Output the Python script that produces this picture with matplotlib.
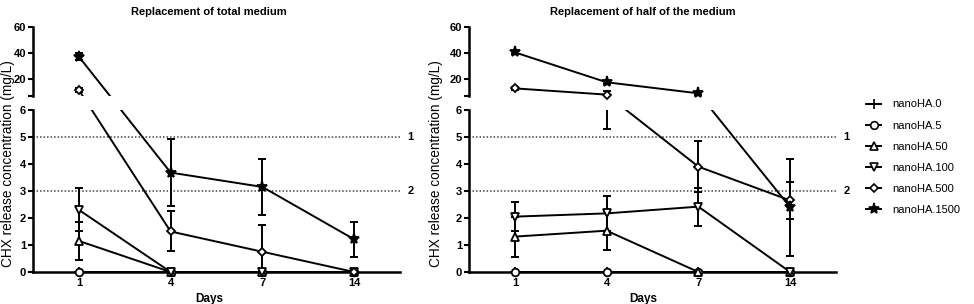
import matplotlib
matplotlib.use('Agg')
import matplotlib.pyplot as plt
import numpy as np
from matplotlib.spines import Spine
from matplotlib.lines import Line2D

plt.rcParams['font.family'] = ['Liberation Sans', 'DejaVu Sans']

# ---------------- data ----------------
days = ['1', '4', '7', '14']
series_names = ['nanoHA.0', 'nanoHA.5', 'nanoHA.50', 'nanoHA.100', 'nanoHA.500', 'nanoHA.1500']

# Replacement of total medium
total_ha0 = [0, 0, 0, 0]
total_ha5 = [0, 0, 0, 0]
total_ha50 = [1.15, 0, 0, 0]
total_ha100 = [2.3, 0, 0, 0]
total_ha500 = [11.5, 1.5, 0.75, 0]
total_ha1500 = [37.2, 3.68, 3.15, 1.21]

total_ha0_err = [0, 0, 0, 0]
total_ha5_err = [0, 0, 0, 0]
total_ha50_err = [0.7, 0, 0, 0]
total_ha100_err = [0.8, 0, 0, 0]
total_ha500_err = [1.5, 0.74, 1.0, 0]
total_ha1500_err = [2.8, 1.23, 1.03, 0.64]

# Replacement of half of the medium
half_ha0 = [0, 0, 0, 0]
half_ha5 = [0, 0, 0, 0]
half_ha50 = [1.31, 1.53, 0, 0]
half_ha100 = [2.05, 2.17, 2.42, 0]
half_ha500 = [12.8, 8.0, 3.9, 2.65]
half_ha1500 = [40.5, 17.5, 9.0, 2.4]

half_ha0_err = [0, 0, 0, 0]
half_ha5_err = [0, 0, 0, 0]
half_ha50_err = [0.74, 0.72, 0, 0]
half_ha100_err = [0.55, 0.64, 0.7, 0]
half_ha500_err = [1.0, 2.7, 0.95, 0.7]
half_ha1500_err = [1.0, 1.0, 1.0, 1.8]

threshold_values = [5, 3]
threshold_labels = ['1', '2']

# ---------------- broken-axis scale ----------------
LOW_TOP = 6.0     # top of lower segment
HIGH_BOT = 7.0    # bottom of upper segment
GAP = 14 / 27.0   # gap height in lower-segment units
K = 1.3 / 27.0    # upper segment scale relative to lower


def fwd(v):
    v = np.asarray(v, dtype=float)
    return np.where(v <= LOW_TOP, v,
                    np.where(v <= HIGH_BOT,
                             LOW_TOP + (v - LOW_TOP) / (HIGH_BOT - LOW_TOP) * GAP,
                             LOW_TOP + GAP + (v - HIGH_BOT) * K))


def inv(u):
    u = np.asarray(u, dtype=float)
    return np.where(u <= LOW_TOP, u,
                    np.where(u <= LOW_TOP + GAP,
                             LOW_TOP + (u - LOW_TOP) / GAP * (HIGH_BOT - LOW_TOP),
                             HIGH_BOT + (u - LOW_TOP - GAP) / K))


markers = ['+', 'o', '^', 'v', 'D', '*']
msizes = [7, 5.5, 5.5, 5.5, 4.5, 8]
mfaces = ['none', 'white', 'white', 'white', 'white', 'black']

W, H = 974, 304
fig = plt.figure(figsize=(W / 100, H / 100), dpi=100)

LW = 1.4
bold = dict(fontweight='bold')


def panel(left_px, title, title_x, means, errs, ylabel_x):
    ax = fig.add_axes([left_px / W, (H - 272) / H, 367 / W, 245 / H])
    ax.set_yscale('function', functions=(fwd, inv))
    ax.set_ylim(0, 60)
    ax.set_xlim(-0.5, 3.5)
    x = np.arange(len(days))
    for m, e, mk, ms, mf in zip(means, errs, markers, msizes, mfaces):
        m = np.asarray(m, float)
        e = np.asarray(e, float)
        e_plot = np.where(e > 0, e, np.nan)
        ax.errorbar(x, m, yerr=e_plot, fmt='none', ecolor='black', elinewidth=LW,
                    capsize=3.2, capthick=LW, zorder=2)
        ax.plot(x, m, '-', color='black', lw=LW, zorder=2)
        ax.plot(x, m, linestyle='none', marker=mk, markersize=ms, markerfacecolor=mf,
                markeredgecolor='black', markeredgewidth=1.3, zorder=3, clip_on=False)
    # gap of the broken axis
    ax.axhspan(LOW_TOP, HIGH_BOT, facecolor='white', edgecolor='none', zorder=2.4)
    for tv, tl in zip(threshold_values, threshold_labels):
        ax.axhline(tv, color='#444444', lw=1.1, linestyle=(0, (1, 1.3)), zorder=1)
        ax.text(1.02, tv, tl, transform=ax.get_yaxis_transform(), ha='left',
                va='center', fontsize=8, **bold)
    ax.spines['top'].set_visible(False)
    ax.spines['right'].set_visible(False)
    ax.spines['left'].set_bounds(0, LOW_TOP)
    sp = Spine.linear_spine(ax, 'left')
    sp.set_position(('outward', 0))
    sp.set_bounds(HIGH_BOT, 60)
    ax.spines['left_upper'] = sp
    for s in ['left', 'bottom', 'left_upper']:
        ax.spines[s].set_linewidth(1.8)
        ax.spines[s].set_zorder(2.5)
    yt = [0, 1, 2, 3, 4, 5, 6, HIGH_BOT, 20, 40, 60]
    ax.set_yticks(yt)
    ax.set_yticklabels(['0', '1', '2', '3', '4', '5', '6', '', '20', '40', '60'],
                       fontsize=8, **bold)
    ax.yaxis.set_minor_locator(matplotlib.ticker.NullLocator())
    ax.set_xticks(x)
    ax.set_xticklabels(days, fontsize=8, **bold)
    ax.tick_params(axis='y', direction='out', length=3.5, width=1.5, pad=1.5)
    ax.tick_params(axis='x', direction='out', length=2, width=1.2, pad=2)
    ax.patch.set_alpha(0)
    fig.text(title_x / W, 1 - 12 / H, title, ha='center', va='center', fontsize=8, **bold)
    fig.text(title_x / W, 1 - 293 / H, 'Days', ha='center', va='top', fontsize=8.5, **bold)
    fig.text(ylabel_x / W, 1 - 164 / H, 'CHX release concentration (mg/L)', rotation=90,
             ha='center', va='center', fontsize=9.8)
    return ax


total_means = [total_ha0, total_ha5, total_ha50, total_ha100, total_ha500, total_ha1500]
total_errs = [total_ha0_err, total_ha5_err, total_ha50_err, total_ha100_err,
              total_ha500_err, total_ha1500_err]
half_means = [half_ha0, half_ha5, half_ha50, half_ha100, half_ha500, half_ha1500]
half_errs = [half_ha0_err, half_ha5_err, half_ha50_err, half_ha100_err,
             half_ha500_err, half_ha1500_err]

panel(33, 'Replacement of total medium', 209, total_means, total_errs, 8)
panel(469, 'Replacement of half of the medium', 643, half_means, half_errs, 436)

handles = [Line2D([0], [0], color='black', lw=LW, marker=mk, markersize=ms,
                  markerfacecolor=mf, markeredgecolor='black', markeredgewidth=1.2)
           for mk, ms, mf in zip(markers, msizes, mfaces)]
fig.legend(handles, series_names, loc='upper left', bbox_to_anchor=(862 / W, 1 - 95 / H),
           frameon=False, fontsize=8, handlelength=1.3, handletextpad=1.0,
           labelspacing=1.0, borderaxespad=0)

fig.savefig('out.png', dpi=100)
